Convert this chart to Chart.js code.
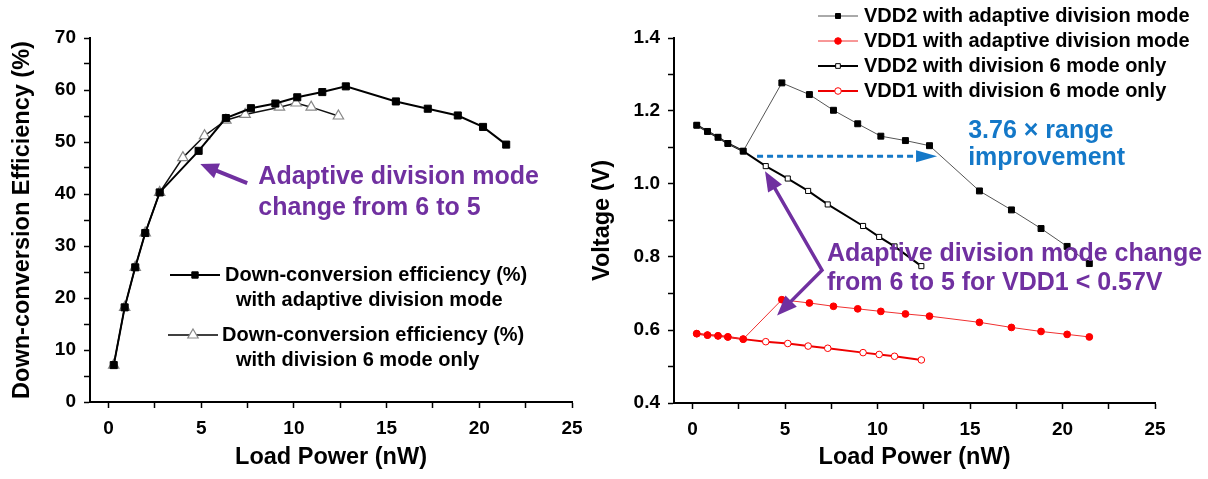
<!DOCTYPE html>
<html><head><meta charset="utf-8">
<script src="https://cdn.jsdelivr.net/npm/chart.js@4"></script>
<style>
html,body{margin:0;padding:0;background:#fff;width:1208px;height:479px;overflow:hidden}
#c1{position:absolute;left:0;top:0}
#c2{position:absolute;left:580px;top:0}
</style></head><body>
<canvas id="c1" width="600" height="479"></canvas>
<canvas id="c2" width="628" height="479"></canvas>
<script>
// ---------- data (left: efficiency) ----------
const loadEffAdaptive = [0.28,0.87,1.44,1.98,2.76,4.86,6.33,7.68,9.0,10.18,11.53,12.8,15.5,17.22,18.84,20.2,21.45];
const effAdaptive     = [7.1,18.2,25.9,32.5,40.3,48.3,54.6,56.5,57.4,58.6,59.6,60.7,57.8,56.4,55.1,52.9,49.5];
const loadEffDiv6     = [0.28,0.87,1.44,1.98,2.76,4.01,5.18,6.33,7.37,9.22,10.12,10.93,12.4];
const effDiv6         = [7.1,18.2,25.9,32.5,40.3,47.0,51.2,54.2,55.3,56.7,57.5,56.7,55.0];

// ---------- data (right: voltage) ----------
const loadVAdaptive = [0.23,0.81,1.38,1.91,2.74,4.83,6.32,7.62,8.93,10.18,11.51,12.81,15.51,17.24,18.84,20.25,21.45];
const vdd2Adaptive  = [1.161,1.144,1.128,1.111,1.090,1.277,1.245,1.202,1.165,1.131,1.119,1.105,0.981,0.929,0.878,0.829,0.782];
const vdd1Adaptive  = [0.590,0.586,0.584,0.581,0.575,0.683,0.674,0.665,0.658,0.651,0.644,0.638,0.621,0.607,0.596,0.588,0.581];
const loadVDiv6     = [0.23,0.81,1.38,1.91,2.74,3.96,5.15,6.25,7.31,9.22,10.09,10.92,12.37];
const vdd2Div6      = [1.161,1.144,1.128,1.111,1.090,1.049,1.015,0.981,0.944,0.885,0.855,0.829,0.775];
const vdd1Div6      = [0.590,0.586,0.584,0.581,0.575,0.568,0.563,0.556,0.550,0.538,0.533,0.528,0.518];

// ---------- ticks ----------
const xTickVals   = [0,2.5,5,7.5,10,12.5,15,17.5,20,22.5,25];
const xTickLabels = [0,5,10,15,20,25];
const effTickVals   = [0,5,10,15,20,25,30,35,40,45,50,55,60,65,70];
const effTickLabels = [0,10,20,30,40,50,60,70];
const vTickVals   = [0.4,0.5,0.6,0.7,0.8,0.9,1.0,1.1,1.2,1.3,1.4];
const vTickLabels = [0.4,0.6,0.8,1.0,1.2,1.4];

const FONT = '"Liberation Sans", Arial, Helvetica, sans-serif';
const PURPLE = '#7030A0', BLUE = '#1478C8';
const pts = (xs, ys) => xs.map((v,i)=>({x:v, y:ys[i]}));
const has = (arr, v) => arr.some(a => Math.abs(a - v) < 1e-6);
const drawPoint = Chart.helpers.drawPoint;

function xScale(axisH){
  return {
    type:'linear', min:-1, max:25,
    afterBuildTicks: s => { s.ticks = xTickVals.map(v=>({value:v})); },
    afterFit: s => { s.height = axisH; },
    border:{display:true,color:'#000',width:2},
    grid:{display:true,drawOnChartArea:false,drawTicks:true,tickLength:6,tickColor:'#000',tickWidth:1.5},
    ticks:{autoSkip:false,maxRotation:0,padding:9,color:'#000',
      font:{family:FONT,size:19,weight:'bold'},
      callback:v => has(xTickLabels,v) ? String(v) : ''},
    title:{display:true,text:'Load Power (nW)',color:'#000',
      font:{family:FONT,size:23.5,weight:'bold'},padding:{top:0,bottom:7}}
  };
}
function yScale(min,max,vals,labels,fmt,w,title,tpad){
  return {
    type:'linear', min, max,
    afterBuildTicks: s => { s.ticks = vals.map(v=>({value:v})); },
    afterFit: s => { s.width = w; },
    border:{display:true,color:'#000',width:2},
    grid:{display:true,drawOnChartArea:false,drawTicks:true,tickLength:6,tickColor:'#000',tickWidth:1.5},
    ticks:{autoSkip:false,padding:8,color:'#000',
      font:{family:FONT,size:19,weight:'bold'},
      callback:v => has(labels,v) ? fmt(v) : ''},
    title:{display:true,text:title,color:'#000',
      font:{family:FONT,size:23.5,weight:'bold'},padding:{top:tpad,bottom:0}}
  };
}
function arrowHead(ctx,x1,y1,x2,y2,len,half,color){
  const a=Math.atan2(y2-y1,x2-x1);
  ctx.save(); ctx.fillStyle=color; ctx.beginPath();
  ctx.moveTo(x2,y2);
  ctx.lineTo(x2-len*Math.cos(a)+half*Math.sin(a), y2-len*Math.sin(a)-half*Math.cos(a));
  ctx.lineTo(x2-len*Math.cos(a)-half*Math.sin(a), y2-len*Math.sin(a)+half*Math.cos(a));
  ctx.closePath(); ctx.fill(); ctx.restore();
}
function sample(ctx,x1,x2,y,lc,lw,ps,r,fill,stroke,bw){
  ctx.save();
  ctx.strokeStyle=lc; ctx.lineWidth=lw;
  ctx.beginPath(); ctx.moveTo(x1,y); ctx.lineTo(x2,y); ctx.stroke();
  ctx.fillStyle=fill; ctx.strokeStyle=stroke; ctx.lineWidth=bw;
  drawPoint(ctx,{pointStyle:ps,radius:r,rotation:0,borderWidth:bw},(x1+x2)/2,y);
  ctx.restore();
}
function texts(ctx,items,size,color){
  ctx.save(); ctx.fillStyle=color; ctx.font='bold '+size+'px '+FONT;
  ctx.textBaseline='middle'; ctx.textAlign='left';
  items.forEach(t=>ctx.fillText(t[0],t[1],t[2])); ctx.restore();
}

// ---------- left chart ----------
const leftDecor = {
  id:'leftDecor',
  afterDraw(chart){
    const {ctx, scales:{x,y}} = chart;
    // arrow
    const tx=x.getPixelForValue(7.48), ty=y.getPixelForValue(42.1);
    const hx=x.getPixelForValue(4.95), hy=y.getPixelForValue(45.75);
    const a=Math.atan2(hy-ty,hx-tx);
    ctx.save(); ctx.strokeStyle=PURPLE; ctx.lineWidth=4;
    ctx.beginPath(); ctx.moveTo(tx,ty); ctx.lineTo(hx-10*Math.cos(a),hy-10*Math.sin(a)); ctx.stroke(); ctx.restore();
    arrowHead(ctx,tx,ty,hx,hy,18,8,PURPLE);
    texts(ctx,[['Adaptive division mode',x.getPixelForValue(8.08),177],
               ['change from 6 to 5',x.getPixelForValue(8.08),208]],25,PURPLE);
    // legend
    sample(ctx,170,220,275,'#000',2,'rect',4.5,'#000','#000',1);
    sample(ctx,168,218,335,'#000',1.5,'triangle',6,'#fff','#888',1.2);
    texts(ctx,[['Down-conversion efficiency (%)',225,275],
               ['with adaptive division mode',236,300],
               ['Down-conversion efficiency (%)',222,335],
               ['with division 6 mode only',236,360]],20,'#000');
  }
};
new Chart(document.getElementById('c1'),{
  type:'line',
  data:{datasets:[
    {label:'Down-conversion efficiency (%) with adaptive division mode',
     data:pts(loadEffAdaptive,effAdaptive),borderColor:'#000',borderWidth:2,
     pointStyle:'rect',pointRadius:5,pointBackgroundColor:'#000',pointBorderColor:'#000',pointBorderWidth:1,tension:0},
    {label:'Down-conversion efficiency (%) with division 6 mode only',
     data:pts(loadEffDiv6,effDiv6),borderColor:'#111',borderWidth:1.5,
     pointStyle:'triangle',pointRadius:6,pointBackgroundColor:'#fff',pointBorderColor:'#888',pointBorderWidth:1.2,tension:0}
  ]},
  options:{
    responsive:false,animation:false,events:[],
    layout:{padding:{left:0,right:28,top:38,bottom:0}},
    scales:{
      x:xScale(77),
      y:yScale(0,70,effTickVals,effTickLabels,v=>String(v),90,'Down-conversion Efficiency (%)',8)
    },
    plugins:{legend:{display:false},tooltip:{enabled:false}}
  },
  plugins:[leftDecor]
});

// ---------- right chart ----------
const rightDecor = {
  id:'rightDecor',
  afterDraw(chart){
    const {ctx, scales:{x,y}} = chart;
    // blue dashed arrow
    const bx1=x.getPixelForValue(3.49), bx2=x.getPixelForValue(13.22), by=y.getPixelForValue(1.076);
    ctx.save(); ctx.strokeStyle=BLUE; ctx.lineWidth=3; ctx.setLineDash([6,4]);
    ctx.beginPath(); ctx.moveTo(bx1,by); ctx.lineTo(bx2-18,by); ctx.stroke(); ctx.restore();
    arrowHead(ctx,bx1,by,bx2,by,21,6,BLUE);
    texts(ctx,[['3.76 \u00d7 range',x.getPixelForValue(14.9),131],
               ['improvement',x.getPixelForValue(14.9),158]],25,BLUE);
    // purple double arrow
    const p1=[x.getPixelForValue(3.92),y.getPixelForValue(1.035)];
    const pv=[x.getPixelForValue(7.0),y.getPixelForValue(0.764)];
    const p2=[x.getPixelForValue(4.57),y.getPixelForValue(0.640)];
    const a1=Math.atan2(p1[1]-pv[1],p1[0]-pv[0]), a2=Math.atan2(p2[1]-pv[1],p2[0]-pv[0]);
    ctx.save(); ctx.strokeStyle=PURPLE; ctx.lineWidth=3.5; ctx.lineJoin='miter';
    ctx.beginPath(); ctx.moveTo(p1[0]-12*Math.cos(a1),p1[1]-12*Math.sin(a1));
    ctx.lineTo(pv[0],pv[1]); ctx.lineTo(p2[0]-12*Math.cos(a2),p2[1]-12*Math.sin(a2)); ctx.stroke(); ctx.restore();
    arrowHead(ctx,pv[0],pv[1],p1[0],p1[1],20,8,PURPLE);
    arrowHead(ctx,pv[0],pv[1],p2[0],p2[1],20,8,PURPLE);
    texts(ctx,[['Adaptive division mode change',x.getPixelForValue(7.27),254],
               ['from 6 to 5 for VDD1 < 0.57V',x.getPixelForValue(7.27),283]],25,PURPLE);
    // legend (canvas left = 580)
    const L1=818-580, L2=858-580, TX=864-580;
    sample(ctx,L1,L2,16,'#555',1,'rect',3.5,'#000','#000',1);
    sample(ctx,L1,L2,41,'#f03030',1,'circle',3.3,'#ff0000','#ff0000',1);
    sample(ctx,L1,L2,66,'#000',2,'rect',3.3,'#fff','#000',1);
    sample(ctx,L1,L2,91,'#ee0000',2,'circle',3.3,'#fff','#ff0000',1);
    texts(ctx,[['VDD2 with adaptive division mode',TX,16],
               ['VDD1 with adaptive division mode',TX,41],
               ['VDD2 with division 6 mode only',TX,66],
               ['VDD1 with division 6 mode only',TX,91]],20,'#000');
  }
};
new Chart(document.getElementById('c2'),{
  type:'line',
  data:{datasets:[
    {label:'VDD2 with adaptive division mode',data:pts(loadVAdaptive,vdd2Adaptive),
     borderColor:'#555',borderWidth:1,pointStyle:'rect',pointRadius:4.2,
     pointBackgroundColor:'#000',pointBorderColor:'#000',pointBorderWidth:1,tension:0},
    {label:'VDD1 with adaptive division mode',data:pts(loadVAdaptive,vdd1Adaptive),
     borderColor:'#f03030',borderWidth:1,pointStyle:'circle',pointRadius:3.4,
     pointBackgroundColor:'#ff0000',pointBorderColor:'#ff0000',pointBorderWidth:1,tension:0},
    {label:'VDD2 with division 6 mode only',data:pts(loadVDiv6,vdd2Div6),
     borderColor:'#000',borderWidth:2,pointStyle:'rect',pointRadius:3.6,
     pointBackgroundColor:'#fff',pointBorderColor:'#000',pointBorderWidth:1,tension:0},
    {label:'VDD1 with division 6 mode only',data:pts(loadVDiv6,vdd1Div6),
     borderColor:'#ee0000',borderWidth:2,pointStyle:'circle',pointRadius:3.3,
     pointBackgroundColor:'#fff',pointBorderColor:'#ff0000',pointBorderWidth:1,tension:0}
  ]},
  options:{
    responsive:false,animation:false,events:[],
    layout:{padding:{left:0,right:53,top:38,bottom:0}},
    scales:{
      x:xScale(76),
      y:yScale(0.4,1.4,vTickVals,vTickLabels,v=>v.toFixed(1),94,'Voltage (V)',8)
    },
    plugins:{legend:{display:false},tooltip:{enabled:false}}
  },
  plugins:[rightDecor]
});
</script>
</body></html>
